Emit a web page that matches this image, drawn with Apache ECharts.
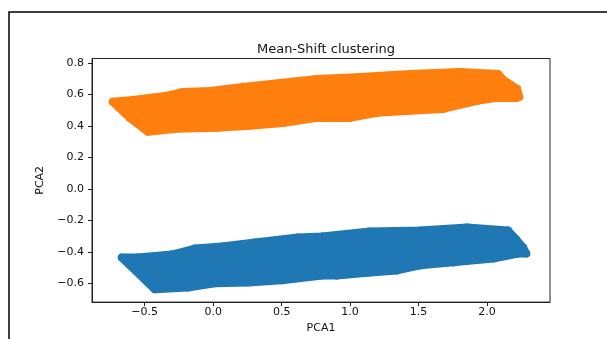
<!DOCTYPE html>
<html>
<head>
<meta charset="utf-8">
<script src="https://cdn.jsdelivr.net/npm/echarts@6/dist/echarts.min.js"></script>
<style>
  html, body { margin: 0; padding: 0; background: #fff; }
  #chart { width: 607px; height: 339px; }
</style>
</head>
<body>
<div id="chart"></div>
<script>
// edge points of each cluster (PCA1, PCA2)
var orangeX = [-0.733, -0.587, -0.338, -0.222, -0.024, 0.217, 0.488, 0.758, 1.072, 1.438, 1.803, 2.081, 2.118, 2.220, 2.235,
  2.213, 2.074, 1.928, 1.679, 1.438, 1.197, 0.999, 0.758, 0.510, 0.268, 0.027, -0.265, -0.477, -0.609];
var orangeY = [0.553, 0.565, 0.591, 0.616, 0.622, 0.648, 0.673, 0.698, 0.711, 0.730, 0.743, 0.730, 0.692, 0.635, 0.584,
  0.578, 0.578, 0.559, 0.508, 0.496, 0.483, 0.451, 0.451, 0.419, 0.401, 0.388, 0.382, 0.363, 0.451];

var blueX = [-0.667, -0.550, -0.302, -0.134, 0.064, 0.305, 0.619, 0.795, 1.145, 1.511, 1.854, 2.154, 2.213, 2.264, 2.286,
  2.228, 2.045, 1.752, 1.511, 1.343, 1.145, 0.904, 0.795, 0.502, 0.254, 0.012, -0.185, -0.426];
var blueY = [-0.435, -0.435, -0.416, -0.378, -0.365, -0.340, -0.308, -0.302, -0.270, -0.264, -0.245, -0.264, -0.321, -0.372, -0.410,
  -0.410, -0.441, -0.466, -0.485, -0.517, -0.530, -0.549, -0.549, -0.580, -0.593, -0.599, -0.625, -0.637];

var xTicks = [-0.5, 0.0, 0.5, 1.0, 1.5, 2.0];
var yTicks = [-0.6, -0.4, -0.2, 0.0, 0.2, 0.4, 0.6, 0.8];

var ORANGE = "#ff7f0e";
var BLUE = "#1f77b4";
var FONT = "DejaVu Sans";
var INK = "#111";

function fmt(v) {
  return (v < 0 ? "\u2212" : "") + Math.abs(v).toFixed(1);
}

function pairs(xs, ys) {
  return xs.map(function (x, i) { return [x, ys[i]]; });
}

// filled body of a cluster, drawn from its edge points; the thick round
// stroke stands for the marker radius of the outermost points
function blob(xs, ys, color) {
  return {
    type: "custom",
    data: [[xs[0], ys[0]]],
    silent: true,
    renderItem: function (params, api) {
      var pts = xs.map(function (x, i) { return api.coord([x, ys[i]]); });
      return {
        type: "polygon",
        shape: { points: pts },
        style: { fill: color, stroke: color, lineWidth: 8, lineJoin: "round" }
      };
    }
  };
}

function dots(xs, ys, color) {
  return {
    type: "scatter",
    data: pairs(xs, ys),
    symbolSize: 8,
    itemStyle: { color: color, opacity: 1 }
  };
}

var chart = echarts.init(document.getElementById("chart"));
chart.setOption({
  animation: false,
  backgroundColor: "#fff",
  title: {
    text: "Mean-Shift clustering",
    left: 321,
    top: 38,
    textAlign: "center",
    textStyle: { fontFamily: FONT, fontSize: 13, fontWeight: "normal", color: INK }
  },
  grid: { left: 92, right: 57, top: 58.5, bottom: 36.5, containLabel: false,
    show: true, borderColor: "#222", borderWidth: 1 },
  xAxis: {
    type: "value",
    min: -0.885,
    max: 2.46,
    name: "PCA1",
    nameLocation: "middle",
    nameGap: 18,
    nameTextStyle: { fontFamily: FONT, fontSize: 11, color: INK },
    splitLine: { show: false },
    axisLine: { onZero: false, lineStyle: { color: "#222", width: 1 } },
    axisTick: { length: 4, lineStyle: { color: "#222" }, customValues: xTicks },
    axisLabel: { customValues: xTicks, formatter: fmt, margin: 5,
      fontFamily: FONT, fontSize: 11, color: INK }
  },
  yAxis: {
    type: "value",
    min: -0.718,
    max: 0.828,
    name: "PCA2",
    nameLocation: "middle",
    nameGap: 46,
    nameTextStyle: { fontFamily: FONT, fontSize: 11, color: INK },
    splitLine: { show: false },
    axisLine: { onZero: false, lineStyle: { color: "#222", width: 1 } },
    axisTick: { length: 4, lineStyle: { color: "#222" }, customValues: yTicks },
    axisLabel: { customValues: yTicks, formatter: fmt, margin: 8,
      fontFamily: FONT, fontSize: 11, color: INK }
  },
  graphic: [{
    type: "rect",
    shape: { x: 9, y: 12, width: 640, height: 360 },
    style: { fill: null, stroke: "#000", lineWidth: 1.5 },
    silent: true
  }],
  series: [
    blob(blueX, blueY, BLUE),
    dots(blueX, blueY, BLUE),
    blob(orangeX, orangeY, ORANGE),
    dots(orangeX, orangeY, ORANGE)
  ]
});
</script>
</body>
</html>
